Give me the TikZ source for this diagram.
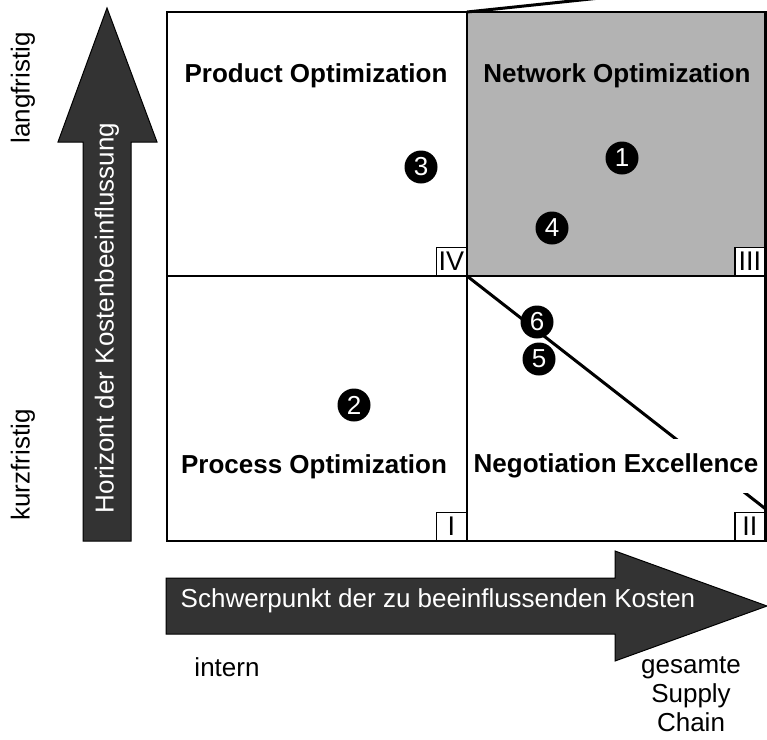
\documentclass[tikz,border=0pt]{standalone}
\usepackage{fontspec}
\setmainfont{Liberation Sans}
\usetikzlibrary{positioning,calc}
\definecolor{quadgray}{HTML}{B3B3B3}
\definecolor{arrowdark}{HTML}{333333}

\begin{document}
\begin{tikzpicture}[x=1pt, y=-1pt,
    quadtitle/.style={font=\fontsize{26}{30}\selectfont\bfseries},
    axislabel/.style={font=\fontsize{26}{29}\selectfont, align=center},
    numcirc/.style={circle, fill=black, text=white, minimum size=33pt, inner sep=0pt,
                    font=\fontsize{26}{26}\selectfont},
    roman/.style={draw, fill=white, line width=1.2pt, minimum width=30pt, minimum height=28pt,
                  inner sep=0pt, font=\fontsize{27}{27}\selectfont},
    gridline/.style={line width=2.5pt}
]
    \useasboundingbox (0,0) rectangle (767,739);

    % Corners of the matrix
    \coordinate (tl) at (167,12);  \coordinate (tm) at (467,12);  \coordinate (tr) at (765.5,12);
    \coordinate (ml) at (167,276); \coordinate (mm) at (467,276); \coordinate (mr) at (765.5,276);
    \coordinate (bl) at (167,541); \coordinate (bm) at (467,541); \coordinate (br) at (765.5,541);
    \coordinate (topend) at (600,-2);
    \coordinate (diagend) at (767,510);

    \fill[quadgray] (tm) rectangle (mr);
    \draw[gridline] (tl) rectangle (br);
    \draw[gridline] (tm) -- (bm);
    \draw[gridline] (ml) -- (mr);

    % Diagonals
    \draw[line width=3pt] (tm) -- (topend);
    \draw[line width=3pt] (mm) -- (diagend);

    % Quadrants
    \node[quadtitle] (prod) at (316,76) {Product Optimization};
    \node[quadtitle] (netw) at (617,76) {Network Optimization};
    \node[quadtitle] (proc) at (314,467) {Process Optimization};
    \node[quadtitle, fill=white, minimum height=54pt, inner xsep=2pt] (nego) at (616,466) {Negotiation Excellence};

    \node[roman, anchor=south east] (q4) at (mm) {IV};
    \node[roman, anchor=south east] (q3) at (mr) {III};
    \node[roman, anchor=south east] (q1) at (bm) {I};
    \node[roman, anchor=south east] (q2) at (br) {II};

    \foreach \n/\px/\py in {1/622/158, 2/354/405, 3/421/167, 4/552/228, 5/539/359, 6/537/322}
        \node[numcirc] (n\n) at (\px,\py) {\n};

    % Vertical arrow
    \draw[fill=arrowdark, line width=1pt] (83,541) -- (83,142) -- (58,142) -- (107,8)
        -- (157,142) -- (131,142) -- (131,541) -- cycle;
    \node[axislabel, text=white, rotate=90] (horiz) at (107,318) {Horizont der Kostenbeeinflussung};
    \node[axislabel, rotate=90] (long) at (23,88) {langfristig};
    \node[axislabel, rotate=90] (short) at (23,465) {kurzfristig};

    % Horizontal arrow
    \draw[fill=arrowdark, line width=1pt] (166,578) -- (615,578) -- (615,551) -- (767,606)
        -- (615,661) -- (615,634) -- (166,634) -- cycle;
    \node[axislabel, text=white] (focus) at (438,601) {Schwerpunkt der zu beeinflussenden Kosten};
    \node[axislabel] (intern) at (227,667) {intern};
    \node[axislabel] (total) at (691,694) {gesamte\\Supply\\Chain};
\end{tikzpicture}
\end{document}
